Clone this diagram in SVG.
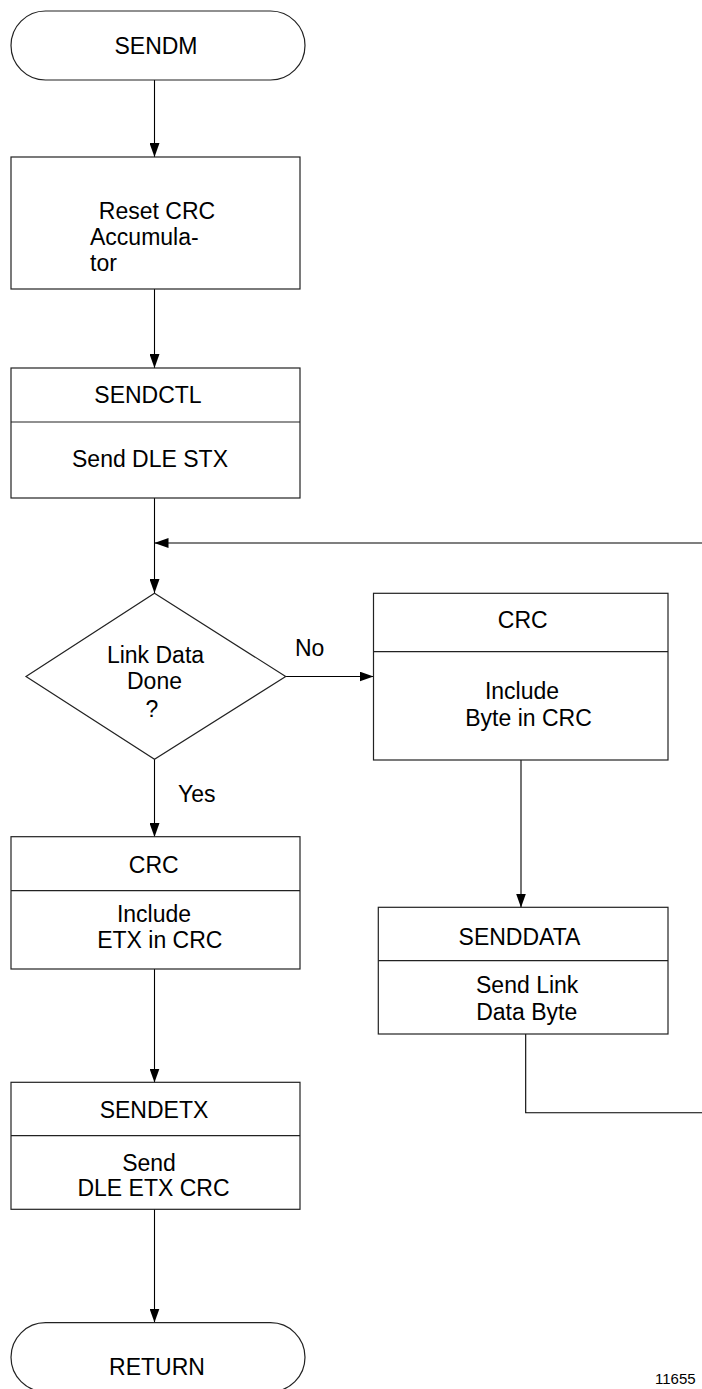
<svg xmlns="http://www.w3.org/2000/svg" width="702" height="1389" viewBox="0 0 702 1389">
<style>
.s{fill:#fff;stroke:#222;stroke-width:1.2}
.c{fill:none;stroke:#000;stroke-width:1.1}
text{font-family:"Liberation Sans",Arial,sans-serif;font-size:23px;fill:#000}
.m{text-anchor:middle}
</style>
<defs>
<marker id="ah" viewBox="0 0 14 10" refX="14" refY="5" markerWidth="14" markerHeight="10" markerUnits="userSpaceOnUse" orient="auto">
<path d="M0,0 L14,5 L0,10 z" fill="#000"/>
</marker>
</defs>
<rect width="702" height="1389" fill="#fff"/>
<g id="connectors">
<line class="c" x1="154.5" y1="80" x2="154.5" y2="157" marker-end="url(#ah)"/>
<line class="c" x1="154.5" y1="289" x2="154.5" y2="368" marker-end="url(#ah)"/>
<line class="c" x1="154.5" y1="498" x2="154.5" y2="593" marker-end="url(#ah)"/>
<line class="c" x1="702" y1="543" x2="154.5" y2="543" marker-end="url(#ah)"/>
<line class="c" x1="285.5" y1="676.5" x2="373.5" y2="676.5" marker-end="url(#ah)"/>
<line class="c" x1="154.5" y1="759" x2="154.5" y2="837" marker-end="url(#ah)"/>
<line class="c" x1="521" y1="760" x2="521" y2="907.5" marker-end="url(#ah)"/>
<polyline class="c" points="525.7,1034 525.7,1112.7 702,1112.7"/>
<line class="c" x1="154.5" y1="969" x2="154.5" y2="1082.5" marker-end="url(#ah)"/>
<line class="c" x1="154.5" y1="1209" x2="154.5" y2="1322.5" marker-end="url(#ah)"/>
<text x="295" y="656">No</text>
<text x="178" y="802">Yes</text>
</g>
<g id="sendm">
<rect class="s" x="11" y="11" width="294" height="69" rx="34.5" ry="34.5"/>
<text class="m" x="156" y="54">SENDM</text>
</g>
<g id="reset">
<rect class="s" x="11" y="157" width="289" height="132"/>
<text class="m" x="157" y="219">Reset CRC</text>
<text x="90" y="245">Accumula-</text>
<text x="90" y="271">tor</text>
</g>
<g id="sendctl">
<rect class="s" x="11" y="368" width="289" height="130"/>
<line class="s" x1="11" y1="422" x2="300" y2="422"/>
<text class="m" x="148" y="403">SENDCTL</text>
<text class="m" x="150" y="467">Send DLE STX</text>
</g>
<g id="decision">
<polygon class="s" points="154.5,593.3 285.7,676.5 154.5,759.3 26,676.5"/>
<text class="m" x="155.5" y="663.3">Link Data</text>
<text class="m" x="154.5" y="689.3">Done</text>
<text class="m" x="152" y="716.5">?</text>
</g>
<g id="crc-byte">
<rect class="s" x="373.5" y="593.3" width="294.5" height="166.7"/>
<line class="s" x1="373.5" y1="651.7" x2="668" y2="651.7"/>
<text class="m" x="522.7" y="627.7">CRC</text>
<text class="m" x="522" y="699.3">Include</text>
<text class="m" x="528.5" y="725.7">Byte in CRC</text>
</g>
<g id="senddata">
<rect class="s" x="378.3" y="907.3" width="289.7" height="126.7"/>
<line class="s" x1="378.3" y1="960.7" x2="668" y2="960.7"/>
<text class="m" x="519.5" y="945">SENDDATA</text>
<text class="m" x="527.2" y="993.3">Send Link</text>
<text class="m" x="526.7" y="1020">Data Byte</text>
</g>
<g id="crc-etx">
<rect class="s" x="11" y="836.7" width="289" height="132.3"/>
<line class="s" x1="11" y1="890.7" x2="300" y2="890.7"/>
<text class="m" x="153.7" y="873.3">CRC</text>
<text class="m" x="154" y="921.7">Include</text>
<text class="m" x="159.8" y="948.3">ETX in CRC</text>
</g>
<g id="sendetx">
<rect class="s" x="11" y="1082.3" width="289" height="127"/>
<line class="s" x1="11" y1="1135.7" x2="300" y2="1135.7"/>
<text class="m" x="154" y="1118.3">SENDETX</text>
<text class="m" x="149" y="1170.7">Send</text>
<text class="m" x="153.5" y="1196">DLE ETX CRC</text>
</g>
<g id="return">
<rect class="s" x="11" y="1322.7" width="294" height="69" rx="34.5" ry="34.5"/>
<text class="m" x="157" y="1375">RETURN</text>
</g>
<g id="figure-number">
<text x="655" y="1384" style="font-size:15px">11655</text>
</g>
</svg>
